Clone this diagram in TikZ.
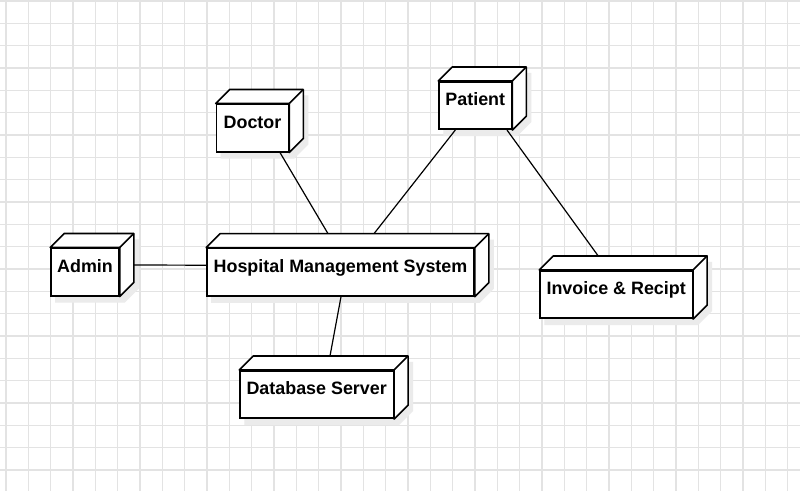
\documentclass[tikz,border=0pt]{standalone}
\usepackage{fontspec}
\setmainfont{Liberation Sans}
\pgfdeclarelayer{gridlayer}
\pgfdeclarelayer{shadowlayer}
\pgfsetlayers{gridlayer,shadowlayer,main}
\newcommand\cubefaces[1]{%
  \begin{pgfonlayer}{shadowlayer}
    \fill[black!8] ([xshift=5pt,yshift=-6pt]#1.north west) -- ++(14pt,14pt) -- ([xshift=19pt,yshift=8pt]#1.north east) -- ([xshift=19pt,yshift=8pt]#1.south east) -- ([xshift=5pt,yshift=-6pt]#1.south east) -- ([xshift=5pt,yshift=-6pt]#1.south west) -- cycle;
  \end{pgfonlayer}
  \filldraw[facestyle] (#1.north west) -- ([xshift=14pt,yshift=14pt]#1.north west) -- ([xshift=14pt,yshift=14pt]#1.north east) -- ([xshift=14pt,yshift=14pt]#1.south east) -- (#1.south east) -- (#1.north east) -- cycle;
  \draw[facestyle] (#1.north east) -- ([xshift=14pt,yshift=14pt]#1.north east);
}
\tikzset{
  cubebox/.style={draw, line width=1.6pt, fill=white, inner sep=0pt, minimum height=47.5pt,
    text height=6pt, text depth=6pt, font=\fontsize{17.9pt}{20pt}\selectfont\bfseries},
  facestyle/.style={line width=1.6pt, fill=white, line join=round},
  conn/.style={line width=1.2pt},
  gridline/.style={draw=black!11, line width=1.2pt}
}
\begin{document}
\begin{tikzpicture}[x=1pt,y=-1pt]
\useasboundingbox (0,0) rectangle (800,491);
\begin{pgfonlayer}{gridlayer}
  \fill[white] (0,0) rectangle (800,491);
  \foreach \i in {0,...,35} {
    \draw[gridline] ({6+22.33*\i},0) -- ({6+22.33*\i},491);
  }
  \foreach \j in {0,...,22} {
    \draw[gridline] (0,{1+22.33*\j}) -- (800,{1+22.33*\j});
  }
\end{pgfonlayer}

\node[cubebox, minimum width=68pt] (admin) at (85,272) {Admin};
\node[cubebox, minimum width=72pt] (doctor) at (252.5,128) {Doctor};
\node[cubebox, minimum width=72.5pt] (patient) at (475.3,105.5) {Patient};
\node[cubebox, minimum width=267pt] (hms) at (340.5,272.2) {Hospital Management System};
\node[cubebox, minimum width=152.3pt] (invoice) at (616.2,294.5) {Invoice \& Recipt};
\node[cubebox, minimum width=153.3pt] (db) at (316.7,394.5) {Database Server};

\foreach \n in {admin,doctor,patient,hms,invoice,db} { \cubefaces{\n} }

\draw[conn] ([xshift=14pt,yshift=7pt]admin.east) -- ([yshift=7pt]hms.west);
\draw[conn] ([xshift=27.5pt]doctor.south) -- ([xshift=-12.5pt,yshift=14pt]hms.north);
\draw[conn] ([xshift=-20pt]patient.south) -- ([xshift=33.5pt,yshift=14pt]hms.north);
\draw[conn] ([xshift=31.7pt]patient.south) -- ([xshift=-18pt,yshift=14pt]invoice.north);
\draw[conn] ([xshift=0.5pt]hms.south) -- ([xshift=13.3pt,yshift=14pt]db.north);
\end{tikzpicture}
\end{document}
